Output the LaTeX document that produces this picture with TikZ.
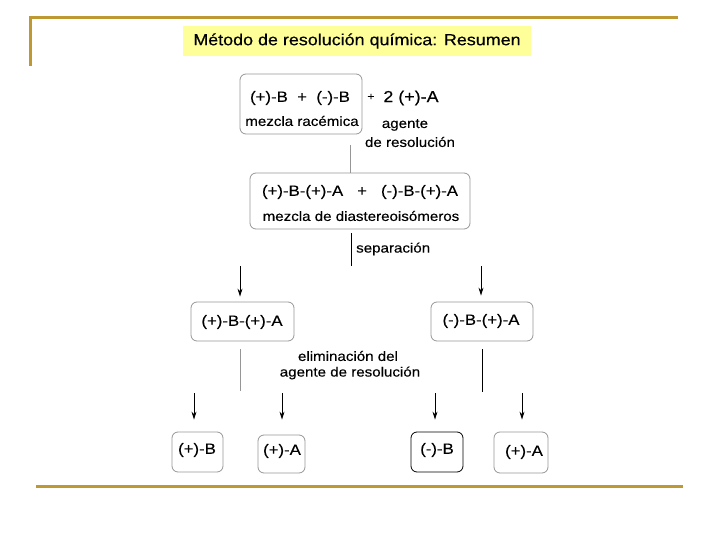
\documentclass[tikz,border=0pt]{standalone}
\usepackage{fontspec}
\setmainfont[FakeStretch=1.12,FakeBold=0.25]{Liberation Sans}
\usetikzlibrary{arrows.meta}
\definecolor{gold}{RGB}{190,152,50}
\definecolor{titlebg}{RGB}{255,255,153}
\definecolor{boxgray}{RGB}{150,150,150}
\tikzset{
  box/.style={draw=boxgray, line width=0.8pt, rounded corners=6pt, inner sep=0pt},
  txt/.style={font=\fontsize{13.5}{16}\selectfont, inner sep=0pt},
  big/.style={font=\fontsize{15}{18}\selectfont, inner sep=0pt},
  vline/.style={line width=0.8pt},
  arr/.style={line width=1pt, -{Stealth[length=8pt,width=5pt]}},
  goldline/.style={draw=gold, line width=3pt}
}
\begin{document}
\begin{tikzpicture}[x=1pt,y=-1pt]
\useasboundingbox (0,0) rectangle (720,540);
% frame lines
\coordinate (g1) at (30,66);
\coordinate (g2) at (30,18);
\coordinate (g3) at (678,18);
\draw[goldline] (g1) -- (g2) -- (g3);
\coordinate (g4) at (36,486);
\coordinate (g5) at (683,486);
\draw[goldline] (g4) -- (g5);
% title
\node[fill=titlebg, minimum width=348pt, minimum height=30pt, inner sep=0pt,
  font=\fontsize{16}{19}\selectfont] (title) at (357,41) {Método de resolución química: Resumen};
% box 1
\node[box, minimum width=122pt, minimum height=60pt] (b1) at (301,104) {};
\node[big] (b1a) at (300,98) {(+)-B \ + \ (-)-B};
\node[txt] (b1b) at (302,121) {mezcla racémica};
\node[txt, font=\fontsize{11}{13}\selectfont] (plus) at (371,97) {+};
\node[big, font=\fontsize{16}{19}\selectfont] (agA) at (411,98) {2 (+)-A};
\node[txt] (ag1) at (405,125) {agente};
\node[txt] (ag2) at (410,142) {de resolución};
% box 2
\node[box, minimum width=220pt, minimum height=56pt] (b2) at (360,201) {};
\node[big] (b2a) at (360,192) {(+)-B-(+)-A \ \ + \ \ (-)-B-(+)-A};
\node[txt] (b2b) at (361,216) {mezcla de diastereoisómeros};
\coordinate (c1) at (350,145);
\draw[vline, draw=boxgray] (c1) -- (c1 |- b2.north);
\coordinate (c2) at (351,233);
\coordinate (c3) at (351,266);
\draw[vline] (c2) -- (c3);
\node[txt, anchor=west] (sep) at (356,249) {separación};
% box 3 and 4
\node[box, minimum width=103pt, minimum height=39pt] (b3) at (242.5,321.5) {};
\node[big] (b3t) at (242,322) {(+)-B-(+)-A};
\node[box, minimum width=102pt, minimum height=39pt] (b4) at (482,321.5) {};
\node[big] (b4t) at (481,321) {(-)-B-(+)-A};
\coordinate (a1) at (240,266);
\coordinate (a2) at (481,266);
\draw[arr, shorten >=5pt] (a1) -- (a1 |- b3.north);
\draw[arr, shorten >=6pt] (a2) -- (a2 |- b4.north);
% elimination
\coordinate (d1) at (240,349);
\coordinate (d2) at (240,391);
\draw[vline, draw=boxgray] (d1) -- (d2);
\coordinate (d3) at (482,349);
\coordinate (d4) at (482,392);
\draw[vline] (d3) -- (d4);
\node[txt] (el1) at (348,356) {eliminación del};
\node[txt] (el2) at (350,373) {agente de resolución};
% bottom boxes
\node[box, minimum width=51pt, minimum height=40pt] (p1) at (197.5,452) {};
\node[big] (p1t) at (197,450) {(+)-B};
\node[box, minimum width=47pt, minimum height=38pt] (p2) at (281.5,454) {};
\node[big] (p2t) at (282,451) {(+)-A};
\node[box, draw=black, minimum width=52pt, minimum height=40pt] (p3) at (437,452) {};
\node[big] (p3t) at (437,450) {(-)-B};
\node[box, minimum width=54pt, minimum height=41pt] (p4) at (521,452.5) {};
\node[big] (p4t) at (524,452) {(+)-A};
\coordinate (e1) at (194,393);
\coordinate (e2) at (282,393);
\coordinate (e3) at (435,393);
\coordinate (e4) at (522,393);
\draw[arr, shorten >=12pt] (e1) -- (e1 |- p1.north);
\draw[arr, shorten >=15pt] (e2) -- (e2 |- p2.north);
\draw[arr, shorten >=12pt] (e3) -- (e3 |- p3.north);
\draw[arr, shorten >=12pt] (e4) -- (e4 |- p4.north);
\end{tikzpicture}
\end{document}
